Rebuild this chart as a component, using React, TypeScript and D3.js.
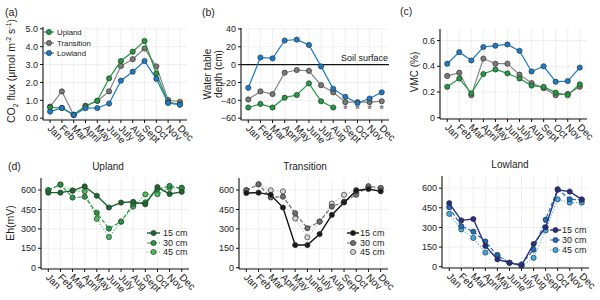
import React, { useEffect, useRef } from 'react'
import * as d3 from 'd3'

const months = ["Jan", "Feb", "Mar", "April", "May", "June", "July", "Aug", "Sept", "Oct", "Nov", "Dec"]

// (a) CO2 flux
const co2Upland = [0.6, 0.58, 0.2, 0.67, 0.97, 2.23, 3.2, 3.72, 4.32, 2.5, 0.9, 0.78]
const co2Transition = [0.65, 1.5, 0.18, 0.7, 0.97, 1.5, 2.92, 3.3, 3.9, 2.9, 1.02, 0.92]
const co2Lowland = [0.37, 0.57, 0.18, 0.56, 0.57, 0.82, 2.1, 2.6, 3.2, 2.2, 0.85, 0.75]

// (b) water table depth
const wtLowland = [-26, 8, 7, 27, 28, 22, -2, -27, -36, -43, -38, -31]
const wtTransition = [-39, -30, -33, -9, -6, -7, -23, -31, -42, -42, -42, -41]
const wtUpland = [-48, -44, -48, -37, -34, -21, -41, -48, null, null, null, null]
const wtDryMonths = ["Sept", "Oct", "Nov", "Dec"]
const wtDryValue = -48

// (c) VMC
const vmcLowland = [0.42, 0.51, 0.445, 0.55, 0.56, 0.57, 0.52, 0.36, 0.4, 0.28, 0.285, 0.39]
const vmcTransition = [0.325, 0.35, 0.175, 0.46, 0.42, 0.42, 0.335, 0.27, 0.23, 0.175, 0.185, 0.24]
const vmcUpland = [0.24, 0.305, 0.19, 0.34, 0.375, 0.345, 0.305, 0.25, 0.24, 0.195, 0.175, 0.26]

// (d) Eh
const ehUpland15 = [580, 580, 595, 628, 556, 465, 503, 509, 490, 623, 570, 586]
const ehUpland30 = [597, 642, 542, 548, 424, 302, 357, 491, 505, 606, 632, 612]
const ehUpland45 = [600, 642, 596, 590, 378, 237, 355, 472, 566, 568, 616, 618]
const ehTransition15 = [577, 580, 563, 465, 175, 175, 260, 408, 504, 595, 608, 590]
const ehTransition30 = [598, 644, 543, 549, 421, 305, 356, 472, 510, 563, 630, 615]
const ehTransition45 = [600, 644, 598, 590, 380, 235, 356, 495, 563, 600, 622, 615]
const ehLowland15 = [486, 354, 364, 159, 56, 30, 10, 173, 302, 587, 574, 515]
const ehLowland30 = [455, 310, 268, 193, 84, 30, 18, 130, 359, 592, 515, 510]
const ehLowland45 = [404, 285, 220, 108, 90, 30, 5, 68, 277, 515, 490, 490]

const depthLabels = ["15 cm", "30 cm", "45 cm"]
const siteLabels = ["Upland", "Transition", "Lowland"]

const green = "#1f9a3e", grey = "#858585", blue = "#1b7bc9"

type Series = { values: (number | null)[], color: string, fill: string, dash?: string, width?: number }

export default function App() {
    const ref = useRef<SVGSVGElement>(null)

    useEffect(() => {
        const svg = d3.select(ref.current)
        svg.selectAll("*").remove()
        const font = "'Liberation Sans', Arial, sans-serif"

        const drawPanel = function (x0: number, x1: number, y0: number, y1: number, yDomain: [number, number], yTicks: number[], fmt: (v: number) => string, series: Series[]) {
            const x = d3.scalePoint<string>().domain(months).range([x0, x1]).padding(0.6)
            const y = d3.scaleLinear().domain(yDomain).range([y1, y0])
            const g = svg.append("g")
            // grid
            g.selectAll(".vg").data(months).enter().append("line")
                .attr("x1", d => x(d)!).attr("x2", d => x(d)!).attr("y1", y0).attr("y2", y1)
                .attr("stroke", "#ebebeb").attr("stroke-width", 0.8)
            g.selectAll(".hg").data(yTicks).enter().append("line")
                .attr("x1", x0).attr("x2", x1).attr("y1", d => y(d)).attr("y2", d => y(d))
                .attr("stroke", "#ebebeb").attr("stroke-width", 0.8)
            // axes
            g.append("line").attr("x1", x0).attr("x2", x0).attr("y1", y0).attr("y2", y1).attr("stroke", "#111").attr("stroke-width", 1.1)
            g.append("line").attr("x1", x0).attr("x2", x1).attr("y1", y1).attr("y2", y1).attr("stroke", "#111").attr("stroke-width", 1.1)
            yTicks.forEach(t => {
                g.append("line").attr("x1", x0 - 3).attr("x2", x0).attr("y1", y(t)).attr("y2", y(t)).attr("stroke", "#111")
                g.append("text").attr("x", x0 - 5).attr("y", y(t) + 3.2).attr("text-anchor", "end")
                    .style("font", "9px " + font).attr("fill", "#222").text(fmt(t))
            })
            months.forEach(m => {
                g.append("line").attr("x1", x(m)!).attr("x2", x(m)!).attr("y1", y1).attr("y2", y1 + 3).attr("stroke", "#111")
                g.append("text").attr("transform", "translate(" + (x(m)! - 3) + "," + (y1 + 9) + ") rotate(45)")
                    .style("font", "10px " + font).attr("fill", "#222").text(m)
            })
            series.forEach(s => {
                const line = d3.line<number | null>()
                    .defined(d => d !== null)
                    .x((d, i) => x(months[i])!).y(d => y(d as number))
                g.append("path").attr("d", line(s.values)).attr("fill", "none")
                    .attr("stroke", s.color).attr("stroke-width", s.width || 1.2)
                    .attr("stroke-dasharray", s.dash || null)
                s.values.forEach((v, i) => {
                    if (v === null) return
                    g.append("circle").attr("cx", x(months[i])!).attr("cy", y(v)).attr("r", 2.6)
                        .attr("fill", s.fill).attr("stroke", "#333").attr("stroke-width", 0.7)
                })
            })
            return { x, y, g }
        }

        const legend = function (lx0: number, lx1: number, tx: number, rows: number[], labels: string[], series: Series[], size: number) {
            rows.forEach((ry, i) => {
                const s = series[i]
                svg.append("line").attr("x1", lx0).attr("x2", lx1).attr("y1", ry).attr("y2", ry)
                    .attr("stroke", s.color).attr("stroke-width", s.width || 1.2).attr("stroke-dasharray", s.dash || null)
                svg.append("circle").attr("cx", (lx0 + lx1) / 2).attr("cy", ry).attr("r", 2.6)
                    .attr("fill", s.fill).attr("stroke", "#333").attr("stroke-width", 0.7)
                svg.append("text").attr("x", tx).attr("y", ry + size * 0.36).style("font", size + "px " + font)
                    .attr("fill", "#222").text(labels[i])
            })
        }

        const label = (x: number, y: number, t: string, size = 10.5) =>
            svg.append("text").attr("x", x).attr("y", y).style("font", size + "px " + font).attr("fill", "#222").text(t)

        // (a)
        const aSeries: Series[] = [
            { values: co2Transition, color: grey, fill: "#7a7a7a" },
            { values: co2Upland, color: green, fill: green },
            { values: co2Lowland, color: blue, fill: blue },
        ]
        drawPanel(43, 187, 27, 120, [-0.1, 5.1], [0, 1, 2, 3, 4, 5], d3.format(".1f"), aSeries)
        legend(44, 54, 57, [32, 43, 53], siteLabels, [aSeries[1], aSeries[0], aSeries[2]], 7.8)
        label(5, 16, "(a)")
        const yA = svg.append("text").attr("transform", "translate(15,71) rotate(-90)").attr("text-anchor", "middle")
            .style("font", "10.5px " + font).attr("fill", "#222")
        yA.append("tspan").text("CO")
        yA.append("tspan").attr("font-size", 7).attr("dy", 2.5).text("2")
        yA.append("tspan").attr("dy", -2.5).text(" flux  (μmol m")
        yA.append("tspan").attr("font-size", 7).attr("dy", -4).text("-2")
        yA.append("tspan").attr("dy", 4).text(" s")
        yA.append("tspan").attr("font-size", 7).attr("dy", -4).text("-1")
        yA.append("tspan").attr("dy", 4).text(")")

        // (b)
        const bSeries: Series[] = [
            { values: wtTransition, color: grey, fill: "#7a7a7a" },
            { values: wtUpland, color: green, fill: green },
            { values: wtLowland, color: blue, fill: blue },
        ]
        const b = drawPanel(241, 389, 28, 120, [-62, 41], [-60, -40, -20, 0, 20, 40], d3.format("d"), [])
        b.g.append("line").attr("x1", 241).attr("x2", 389).attr("y1", b.y(0)).attr("y2", b.y(0)).attr("stroke", "#111").attr("stroke-width", 1.1)
        b.g.append("text").attr("x", 388).attr("y", b.y(0) - 4).attr("text-anchor", "end")
            .style("font", "9px " + font).attr("fill", "#111").text("Soil surface")
        bSeries.forEach(s => {
            const line = d3.line<number | null>().defined(d => d !== null).x((d, i) => b.x(months[i])!).y(d => b.y(d as number))
            b.g.append("path").attr("d", line(s.values)).attr("fill", "none").attr("stroke", s.color).attr("stroke-width", 1.2)
            s.values.forEach((v, i) => {
                if (v === null) return
                b.g.append("circle").attr("cx", b.x(months[i])!).attr("cy", b.y(v)).attr("r", 2.6)
                    .attr("fill", s.fill).attr("stroke", "#333").attr("stroke-width", 0.7)
            })
        })
        wtDryMonths.forEach(m => {
            b.g.append("text").attr("x", b.x(m)!).attr("y", b.y(wtDryValue) + 6).attr("text-anchor", "middle")
                .style("font", "bold 11px " + font).attr("fill", "#777").text("*")
        })
        label(202, 16, "(b)")
        const yB = svg.append("text").attr("transform", "translate(211,74) rotate(-90)").attr("text-anchor", "middle")
            .style("font", "10px " + font).attr("fill", "#222")
        yB.append("tspan").attr("x", 0).text("Water table")
        yB.append("tspan").attr("x", 0).attr("dy", 11).text("depth (cm)")

        // (c)
        drawPanel(440, 587, 29, 119, [-0.01, 0.69], [0, 0.2, 0.4, 0.6], d => d === 0 ? "0" : d3.format(".1f")(d), [
            { values: vmcTransition, color: grey, fill: "#7a7a7a" },
            { values: vmcUpland, color: green, fill: green },
            { values: vmcLowland, color: blue, fill: blue },
        ])
        label(400, 15, "(c)")
        svg.append("text").attr("transform", "translate(418,72) rotate(-90)").attr("text-anchor", "middle")
            .style("font", "10px " + font).attr("fill", "#222").text("VMC (%)")

        // (d) Eh
        const ehTicks = [0, 150, 300, 450, 600]
        const up: Series[] = [
            { values: ehUpland15, color: "#17622b", fill: "#176a2e", width: 1.4 },
            { values: ehUpland30, color: "#23963f", fill: "#24983f", dash: "4,2" },
            { values: ehUpland45, color: "#4cc45e", fill: "#45c05a", dash: "1.2,1.8" },
        ]
        drawPanel(41, 189, 178, 269, [-10, 693], ehTicks, d3.format("d"), [up[2], up[1], up[0]])
        legend(147, 160, 163, [233, 243, 252], depthLabels, up, 9)
        label(8, 170, "(d)")
        svg.append("text").attr("x", 108).attr("y", 170).attr("text-anchor", "middle").style("font", "10px " + font).attr("fill", "#222").text("Upland")
        svg.append("text").attr("transform", "translate(14,223) rotate(-90)").attr("text-anchor", "middle")
            .style("font", "10.5px " + font).attr("fill", "#222").text("Eh(mV)")

        const tr: Series[] = [
            { values: ehTransition15, color: "#111", fill: "#1a1a1a", width: 1.4 },
            { values: ehTransition30, color: "#6e6e6e", fill: "#6e6e6e", dash: "4,2" },
            { values: ehTransition45, color: "#bdbdbd", fill: "#d4d4d4", dash: "1.2,1.8" },
        ]
        drawPanel(239, 388, 178, 269, [-10, 693], ehTicks, d3.format("d"), [tr[2], tr[1], tr[0]])
        legend(347, 359, 360, [233, 243, 252], depthLabels, tr, 9)
        svg.append("text").attr("x", 305).attr("y", 170).attr("text-anchor", "middle").style("font", "10px " + font).attr("fill", "#222").text("Transition")

        const lo: Series[] = [
            { values: ehLowland15, color: "#282f84", fill: "#262d80", width: 1.4 },
            { values: ehLowland30, color: "#1f6fbd", fill: "#1f6fbd", dash: "4,2" },
            { values: ehLowland45, color: "#46b4ea", fill: "#3aaee4", dash: "1.2,1.8" },
        ]
        drawPanel(442, 589, 176, 268, [-10, 693], ehTicks, d3.format("d"), [lo[2], lo[1], lo[0]])
        legend(550, 561, 562, [230, 240, 250], depthLabels, lo, 9)
        svg.append("text").attr("x", 510).attr("y", 168).attr("text-anchor", "middle").style("font", "10px " + font).attr("fill", "#222").text("Lowland")
    }, [])

    return (
        <svg ref={ref} width={600} height={300} style={{ position: "absolute", left: 0, top: 0, background: "#fff" }} />
    )
}
